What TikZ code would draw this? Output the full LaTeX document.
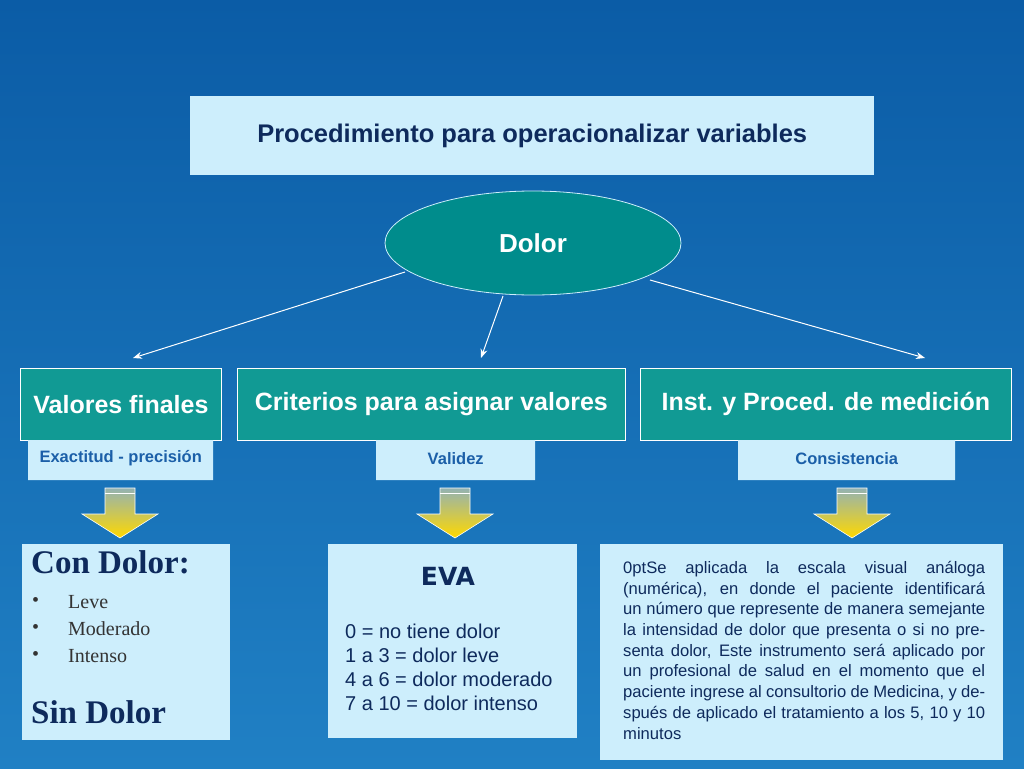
\documentclass[tikz,border=0pt]{standalone}
\usepackage{fontspec}
\setmainfont{Liberation Sans}
\newfontfamily\serifx{Liberation Serif}
\newfontfamily\dejav{DejaVu Sans}
\usetikzlibrary{shapes.geometric,arrows.meta}
\definecolor{bgtop}{HTML}{0B5CA6}
\definecolor{bgbot}{HTML}{2080C4}
\definecolor{lightc}{HTML}{CDEEFC}
\definecolor{navy}{HTML}{0E2A5C}
\definecolor{tealc}{HTML}{119A94}
\definecolor{subt}{HTML}{1B5FA8}
\begin{document}
\begin{tikzpicture}[x=1pt,y=-1pt,
  lbox/.style={draw=none,fill=lightc,inner sep=0,anchor=north west},
  tbox/.style={draw=white,line width=0.8,fill=tealc,inner sep=0,anchor=north west,text=white,font=\bfseries\fontsize{25}{28}\selectfont},
  sbox/.style={fill=lightc,inner sep=0,anchor=north west,text=subt,font=\bfseries\fontsize{16.5}{18}\selectfont},
  conn/.style={draw=white,line width=1,-{Stealth[length=9pt,width=7pt]}},
  barrow/.style={top color=teal!40!gray!60,bottom color=yellow!70!orange,draw=white,line width=0.6}]
\shade[top color=bgtop,bottom color=bgbot] (0,0) rectangle (1024,768);
\useasboundingbox (0,0) rectangle (1024,768);
\node[lbox,minimum width=684,minimum height=79,text=navy,font=\bfseries\fontsize{25.5}{28}\selectfont] (title) at (190,96) {Procedimiento para operacionalizar variables};
\node[ellipse,fill=teal!90!cyan,draw=lightc,line width=0.8,minimum width=296,minimum height=104,text=white,font=\bfseries\fontsize{26}{28}\selectfont] (dolor) at (533,243) {Dolor};
\node[tbox,minimum width=201,minimum height=72] (vf) at (20,368) {Valores finales};
\node[tbox,minimum width=388,minimum height=72] (cr) at (237,368) {Criterios para asignar valores};
\node[tbox,minimum width=371,minimum height=72] (in) at (640,368) {Inst. y Proced. de medición};
\node[sbox,minimum width=185,minimum height=36] (s1) at (28,440) {Exactitud - precisión};
\node[sbox,minimum width=159,minimum height=36] (s2) at (376,440) {Validez};
\node[sbox,minimum width=217,minimum height=36] (s3) at (738,440) {Consistencia};
\path[lbox] (28,440) rectangle (213,480) (376,440) rectangle (535,480) (738,440) rectangle (955,480);
\node[sbox,minimum width=185,minimum height=36] at (28,440) {Exactitud - precisión};
\node[sbox,minimum width=159,minimum height=36] at (376,440) {Validez};
\node[sbox,minimum width=217,minimum height=36] at (738,440) {Consistencia};
\coordinate (e1) at (405,272); \coordinate (e2) at (503,296); \coordinate (e3) at (650,280);
\coordinate (t1) at (133,358); \coordinate (t2) at (481,358); \coordinate (t3) at (925,358);
\draw[conn] (e1) -- (t1); \draw[conn] (e2) -- (t2); \draw[conn] (e3) -- (t3);
\foreach \c in {120,455,852}{
  \path[barrow] (\c-15,488) -- (\c+15,488) -- (\c+15,514) -- (\c+38,514) -- (\c,538) -- (\c-38,514) -- (\c-15,514) -- cycle;
  \draw[white,line width=0.8] (\c-15,493) -- (\c+15,493);
}
\node[lbox,minimum width=208,minimum height=196] (b1) at (22,544) {};
\node[anchor=north west,inner sep=0,text=navy,font=\serifx\bfseries\fontsize{33}{35}\selectfont] (cd) at (31,550) {Con Dolor:};
\foreach \t/\y in {Leve/602,Moderado/629,Intenso/656}
  \node[anchor=west,inner sep=0,text=black!80,font=\serifx\fontsize{20}{22}\selectfont] at (68,\y) {\t};
\foreach \y in {602,629,656}
  \node[anchor=west,inner sep=0,text=black!80,font=\serifx\fontsize{20}{22}\selectfont] at (32,\y) {•};
\node[anchor=north west,inner sep=0,text=navy,font=\serifx\bfseries\fontsize{33}{35}\selectfont] (sd) at (31,700) {Sin Dolor};
\node[lbox,minimum width=249,minimum height=194] (b2) at (328,544) {};
\node[inner sep=0,text=navy,font=\dejav\bfseries\fontsize{25}{28}\selectfont] (eva) at (448,576) {EVA};
\node[anchor=north west,inner sep=0,align=left,text=navy,font=\fontsize{20}{24}\selectfont] (evt) at (345,624) {0 = no tiene dolor\\1 a 3 = dolor leve\\4 a 6 = dolor moderado\\7 a 10 = dolor intenso};
\node[lbox,minimum width=403,minimum height=216] (b3) at (600,544) {};
\node[anchor=north west,inner sep=0,text width=362,align=justify,text=navy,font=\fontsize{16.6}{20.7}\selectfont\hyphenpenalty=10000\exhyphenpenalty=10000] (desc) at (623,561) {Se aplicada la escala visual análoga (numérica), en donde el paciente identificará un número que represente de manera semejante la intensidad de dolor que presenta o si no presenta dolor, Este instrumento será aplicado por un profesional de salud en el momento que el paciente ingrese al consultorio de Medicina, y después de aplicado el tratamiento a los 5, 10 y 10 minutos};
\end{tikzpicture}
\end{document}
